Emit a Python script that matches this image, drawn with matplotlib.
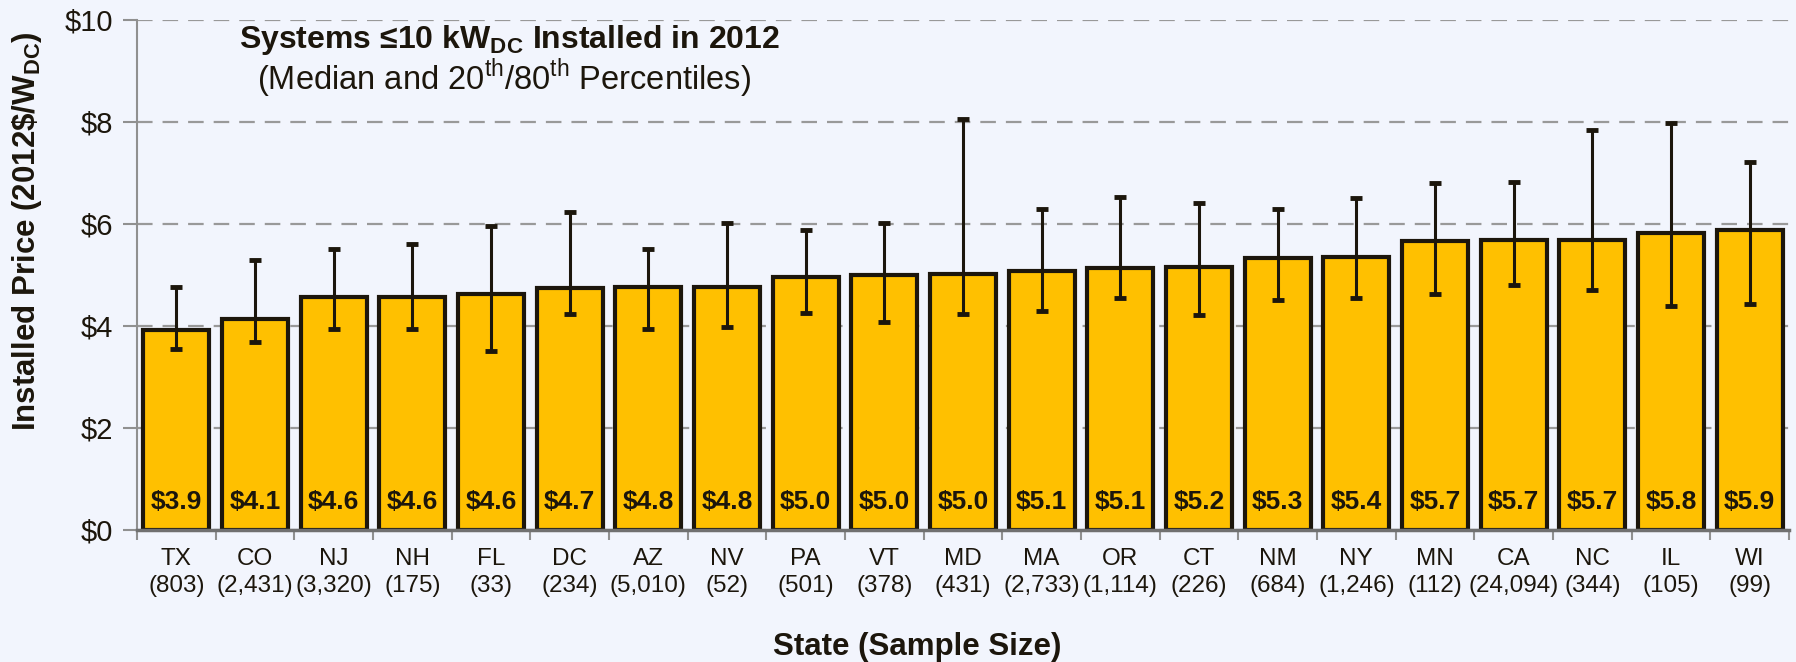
import numpy as np
import matplotlib.pyplot as plt
from matplotlib.ticker import FuncFormatter, FixedLocator

plt.rcParams['font.family'] = ['Liberation Sans', 'DejaVu Sans']
plt.rcParams['mathtext.fontset'] = 'custom'
plt.rcParams['mathtext.rm'] = 'Liberation Sans'
plt.rcParams['mathtext.bf'] = 'Liberation Sans:bold'

states = ['TX', 'CO', 'NJ', 'NH', 'FL', 'DC', 'AZ', 'NV', 'PA', 'VT', 'MD',
          'MA', 'OR', 'CT', 'NM', 'NY', 'MN', 'CA', 'NC', 'IL', 'WI']
sample_size = [803, 2431, 3320, 175, 33, 234, 5010, 52, 501, 378, 431,
               2733, 1114, 226, 684, 1246, 112, 24094, 344, 105, 99]
median = np.array([3.92, 4.14, 4.56, 4.57, 4.63, 4.74, 4.76, 4.77, 4.96, 5.00, 5.02,
                   5.08, 5.14, 5.16, 5.33, 5.36, 5.66, 5.68, 5.69, 5.83, 5.88])
p20 = np.array([3.55, 3.69, 3.94, 3.94, 3.51, 4.24, 3.94, 3.98, 4.26, 4.07, 4.24,
                4.29, 4.54, 4.21, 4.51, 4.54, 4.62, 4.80, 4.70, 4.39, 4.44])
p80 = np.array([4.77, 5.30, 5.51, 5.60, 5.97, 6.24, 5.50, 6.01, 5.89, 6.01, 8.05,
                6.30, 6.52, 6.41, 6.29, 6.50, 6.81, 6.82, 7.84, 7.99, 7.22])

bg = '#F2F5FD'
ink = '#1C160C'
gold = '#FFC000'

fig = plt.figure(figsize=(17.96, 6.62), dpi=100, facecolor=bg)
ax = fig.add_axes([0.0763, 0.1994, 0.9198, 0.7704], facecolor=bg)

x = np.arange(len(states))
ax.bar(x, median, width=0.84, color=gold, edgecolor=ink, linewidth=3, zorder=2)
ax.errorbar(x, median, yerr=[median - p20, p80 - median], fmt='none',
            ecolor=ink, elinewidth=2.2, capsize=4.5, capthick=3.5, zorder=3)

for xi, v in zip(x, median):
    ax.text(xi, 0.55, '\\$%.1f' % v, ha='center', va='center',
            fontsize=19, fontweight='bold', color=ink, zorder=4)

ax.set_xlim(-0.5, len(states) - 0.5)
ax.set_ylim(0, 10)
ax.set_yticks([0, 2, 4, 6, 8, 10])
ax.yaxis.set_major_formatter(FuncFormatter(lambda v, p: '\\$%d' % v))
ax.set_xticks(x)
ax.set_xticklabels(['%s\n(%s)' % (s, format(n, ',')) for s, n in zip(states, sample_size)],
                   fontsize=17.5, color=ink, linespacing=1.3)
ax.xaxis.set_minor_locator(FixedLocator(np.arange(len(states) + 1) - 0.5))
ax.tick_params(axis='x', which='major', length=0, pad=13)
ax.tick_params(axis='x', which='minor', length=7, width=1.5, color='#909090')
ax.tick_params(axis='y', labelsize=21, labelcolor=ink, length=10, width=1.5,
               color='#909090', pad=7)

ax.grid(axis='y', color='#999999', linewidth=1.6, dashes=(7, 4.5))
ax.set_axisbelow(True)
for side in ['top', 'right']:
    ax.spines[side].set_visible(False)
ax.spines['left'].set_color('#909090')
ax.spines['left'].set_linewidth(1.5)
ax.spines['bottom'].set_color('#707070')
ax.spines['bottom'].set_linewidth(2.5)

fig.text(917 / 1796, 1 - 647 / 662, 'State (Sample Size)', ha='center', va='center',
         fontsize=22.5, fontweight='bold', color=ink)
fig.text(27 / 1796, 1 - 231 / 662, 'Installed Price (2012\\$/W$_{\\mathbf{DC}}$)',
         rotation=90, ha='center', va='center', fontsize=22.5, fontweight='bold', color=ink)

fig.text(509 / 1796, 1 - 40 / 662, 'Systems \u226410 kW$_{\\mathbf{DC}}$ Installed in 2012',
         ha='center', va='center', fontsize=23, fontweight='bold', color=ink)
fig.text(504 / 1796, 1 - 78 / 662,
         '(Median and 20$^{\\mathrm{th}}$/80$^{\\mathrm{th}}$ Percentiles)',
         ha='center', va='center', fontsize=23.5, color=ink)

fig.savefig('out.png', dpi=100, facecolor=bg)
